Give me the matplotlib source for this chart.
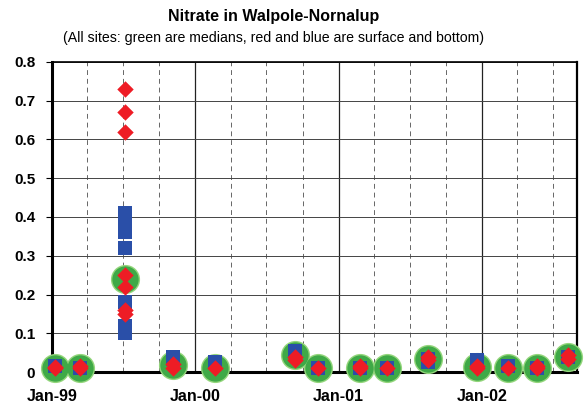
import matplotlib
matplotlib.use('Agg')
import matplotlib.pyplot as plt
import matplotlib.dates as mdates
import datetime as dt

plt.rcParams['font.family'] = ['Liberation Sans', 'DejaVu Sans']

# sampling dates
dates = ['1999-01-08', '1999-03-13', '1999-07-05', '1999-11-05', '2000-02-20',
         '2000-09-12', '2000-11-09', '2001-02-25', '2001-05-04', '2001-08-17',
         '2001-12-20', '2002-03-10', '2002-05-22', '2002-08-10']

# medians of all sites (green)
medians = [0.01, 0.01, 0.24, 0.018, 0.01, 0.044, 0.01, 0.01, 0.01, 0.035,
           0.013, 0.01, 0.01, 0.04]

# surface values (red), one list per date
surface = [[0.01, 0.012], [0.01, 0.015], [0.73, 0.67, 0.62, 0.25, 0.22, 0.16, 0.15],
           [0.01, 0.02], [0.01], [0.04, 0.03], [0.01], [0.015, 0.01], [0.01],
           [0.04, 0.03], [0.01, 0.015], [0.01], [0.015, 0.01], [0.045, 0.035]]

# bottom values (blue), one list per date
bottom = [[0.015], [0.01], [0.41, 0.38, 0.36, 0.32, 0.18, 0.12, 0.10],
          [0.04, 0.035], [0.025], [0.055], [0.01], [0.01], [0.01],
          [0.035, 0.025], [0.03], [0.015], [0.01], [0.04]]

yticks = [0, 0.1, 0.2, 0.3, 0.4, 0.5, 0.6, 0.7, 0.8]
ytick_labels = ['0', '0.1', '0.2', '0.3', '0.4', '0.5', '0.6', '0.7', '0.8']
xtick_years = [1999, 2000, 2001, 2002]
xtick_labels = ['Jan-99', 'Jan-00', 'Jan-01', 'Jan-02']

d = [dt.datetime.strptime(s, '%Y-%m-%d') for s in dates]

fig = plt.figure(figsize=(5.84, 4.04), dpi=100)
ax = fig.add_axes([0.089, 0.079, 0.899, 0.768])

# green medians, soft edged
ax.scatter(d, medians, s=440, color='#94d67c', zorder=3, clip_on=False, linewidths=0)
ax.scatter(d, medians, s=360, color='#3fa947', zorder=3, clip_on=False, linewidths=0)

# blue bottom values
bx, by = [], []
for di, vals in zip(d, bottom):
    for v in vals:
        bx.append(di)
        by.append(v)
ax.scatter(bx, by, marker='s', s=90, color='#2a4fa8', zorder=4, clip_on=False, linewidths=0)

# red surface values
rx, ry = [], []
for di, vals in zip(d, surface):
    for v in vals:
        rx.append(di)
        ry.append(v)
ax.scatter(rx, ry, marker='D', s=70, color='#ee1c25', zorder=5, clip_on=False, linewidths=0)

ax.set_ylim(0, 0.8)
ax.set_xlim(dt.datetime(1999, 1, 1), dt.datetime(2002, 9, 1))

ax.set_yticks(yticks)
ax.set_yticklabels(ytick_labels)
ax.set_xticks([dt.datetime(y, 1, 1) for y in xtick_years])
ax.set_xticklabels(xtick_labels)
ax.xaxis.set_minor_locator(mdates.MonthLocator(bymonth=[4, 7, 10]))

ax.grid(axis='y', which='major', color='#444444', linewidth=0.7)
ax.grid(axis='x', which='major', color='#222222', linewidth=0.9)
ax.grid(axis='x', which='minor', color='#666666', linewidth=0.7, linestyle=(0, (5, 4)))
ax.set_axisbelow(True)

ax.tick_params(axis='y', length=4, width=0.8, pad=8, labelsize=11)
ax.tick_params(axis='x', which='major', length=0, pad=12, labelsize=11.5)
ax.tick_params(axis='x', which='minor', length=0)
for lbl in ax.get_xticklabels() + ax.get_yticklabels():
    lbl.set_fontweight('bold')

ax.spines['left'].set_linewidth(2.2)
ax.spines['bottom'].set_linewidth(2.2)
ax.spines['top'].set_linewidth(1.2)
ax.spines['right'].set_linewidth(1.6)

fig.text(0.469, 0.96, 'Nitrate in Walpole-Nornalup', ha='center', va='center',
         fontsize=11.5, fontweight='bold')
fig.text(0.469, 0.906, '(All sites: green are medians, red and blue are surface and bottom)',
         ha='center', va='center', fontsize=10.2)

fig.savefig('out.png', dpi=100)
